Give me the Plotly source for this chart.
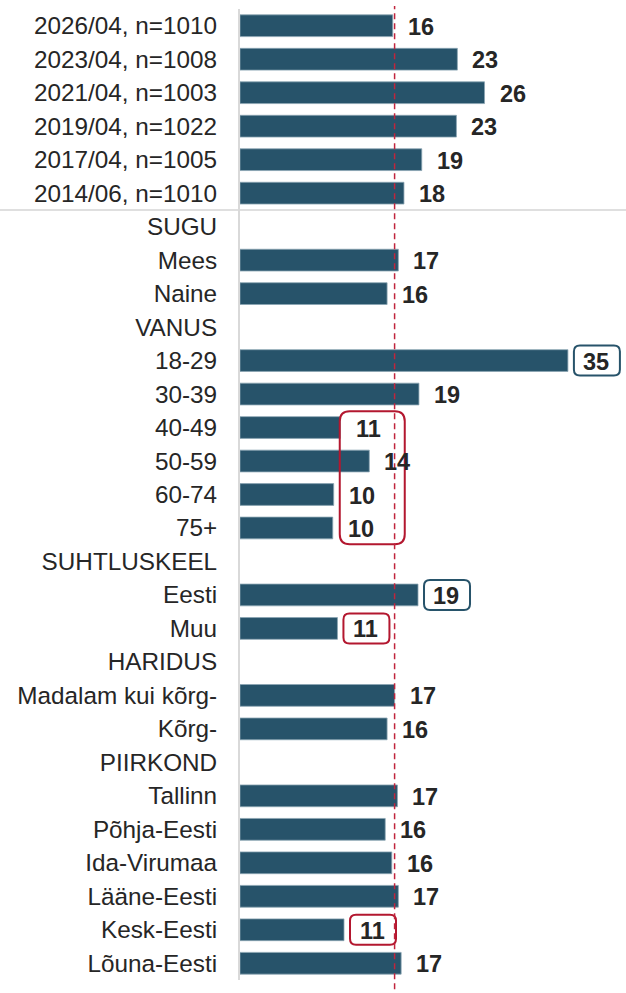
import plotly.graph_objects as go

categories = ["2026/04, n=1010", "2023/04, n=1008", "2021/04, n=1003", "2019/04, n=1022",
              "2017/04, n=1005", "2014/06, n=1010",
              "SUGU", "Mees", "Naine",
              "VANUS", "18-29", "30-39", "40-49", "50-59", "60-74", "75+",
              "SUHTLUSKEEL", "Eesti", "Muu",
              "HARIDUS", "Madalam kui kõrg-", "Kõrg-",
              "PIIRKOND", "Tallinn", "Põhja-Eesti", "Ida-Virumaa", "Lääne-Eesti", "Kesk-Eesti", "Lõuna-Eesti"]
values = [16.3, 23.2, 26.1, 23.1, 19.4, 17.5,
          None, 16.9, 15.7,
          None, 35.0, 19.1, 10.7, 13.8, 10.0, 9.9,
          None, 19.0, 10.4,
          None, 16.5, 15.7,
          None, 16.8, 15.5, 16.2, 16.9, 11.1, 17.2]
labels = ["16", "23", "26", "23", "19", "18",
          "", "17", "16",
          "", "35", "19", "11", "14", "10", "10",
          "", "19", "11",
          "", "17", "16",
          "", "17", "16", "16", "17", "11", "17"]
average = 16.5
high_cats = ["18-29", "Eesti"]
low_cats = ["Muu", "Kesk-Eesti"]
low_group = ["40-49", "50-59", "60-74", "75+"]
separator_after = "2014/06, n=1010"

BAR = "#27536A"
RED = "#B3172F"
TXT = "#262626"
FONT = "Liberation Sans, Arial, sans-serif"

idx = list(range(len(categories)))
bar_y = [i for i, v in zip(idx, values) if v is not None]
bar_x = [v for v in values if v is not None]

fig = go.Figure()
fig.add_trace(go.Bar(
    x=bar_x, y=bar_y, orientation="h", width=0.65,
    marker=dict(color=BAR, line=dict(color="#8aa5b3", width=0.8)),
    hoverinfo="skip", showlegend=False,
))


def rounded_rect(x0, x1, y0, y1, r):
    return (f"M {x0 + r},{y0} L {x1 - r},{y0} Q {x1},{y0} {x1},{y0 + r} "
            f"L {x1},{y1 - r} Q {x1},{y1} {x1 - r},{y1} "
            f"L {x0 + r},{y1} Q {x0},{y1} {x0},{y1 - r} "
            f"L {x0},{y0 + r} Q {x0},{y0} {x0 + r},{y0} Z")


annotations = []
shapes = []
for i, (c, v, lab) in enumerate(zip(categories, values, labels)):
    if v is None:
        continue
    annotations.append(dict(
        x=v, y=i, xref="x", yref="y", text=f"<b>{lab}</b>", showarrow=False,
        xanchor="center", yanchor="middle", xshift=28, yshift=-1,
        font=dict(family=FONT, size=23.5, color=TXT),
    ))
    if c in high_cats or c in low_cats:
        col = BAR if c in high_cats else RED
        shapes.append(dict(
            type="path", xref="x", yref="y", xsizemode="pixel", ysizemode="pixel",
            xanchor=v, yanchor=i, path=rounded_rect(6, 52, -15, 15, 6),
            line=dict(color=col, width=2), fillcolor="rgba(0,0,0,0)", layer="above",
        ))

# group box for the age groups
g_idx = [categories.index(c) for c in low_group]
g_min = min(values[i] for i in g_idx)
g_mid = (min(g_idx) + max(g_idx)) / 2
shapes.append(dict(
    type="path", xref="x", yref="y", xsizemode="pixel", ysizemode="pixel",
    xanchor=g_min, yanchor=g_mid, path=rounded_rect(7, 72, -66.5, 66.5, 10),
    line=dict(color=RED, width=2), fillcolor="rgba(0,0,0,0)", layer="above",
))

# separator line
sep = categories.index(separator_after) + 0.5
shapes.append(dict(type="line", xref="paper", yref="y", x0=-1, x1=1, y0=sep, y1=sep,
                   line=dict(color="#d4d4d4", width=1.5), layer="below"))

# average dashed line
shapes.append(dict(type="line", xref="x", yref="paper", x0=average, x1=average,
                   y0=-0.03, y1=1.003, line=dict(color="#C0253D", width=1.5, dash="6px,4px"),
                   layer="above"))

fig.update_layout(
    width=626, height=993,
    margin=dict(l=240, r=0, t=9, b=13),
    paper_bgcolor="white", plot_bgcolor="white",
    font=dict(family=FONT, color=TXT),
    bargap=0.35,
    annotations=annotations, shapes=shapes,
    xaxis=dict(range=[0, 41.2], visible=False, fixedrange=True),
    yaxis=dict(
        range=[len(categories) - 0.5, -0.5],
        tickmode="array", tickvals=idx, ticktext=categories,
        tickfont=dict(family=FONT, size=24.3, color=TXT),
        showline=True, linecolor="#d9d9d9", linewidth=2,
        ticks="outside", ticklen=16, tickcolor="rgba(0,0,0,0)",
        showgrid=False, zeroline=False, fixedrange=True,
    ),
)

fig.write_html(
    "out.html",
    config={"displayModeBar": False},
    post_script="document.body.style.margin='0';document.body.style.overflow='hidden';",
)
